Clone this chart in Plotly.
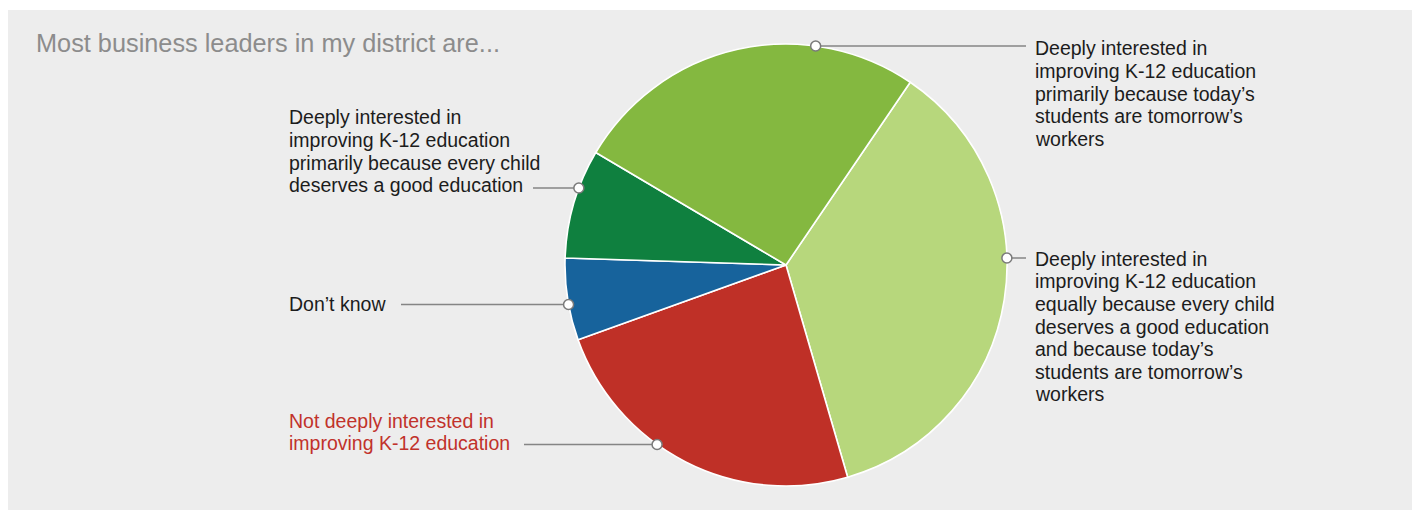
import math
import plotly.graph_objects as go

W, H = 1412, 510

# ---- data ---------------------------------------------------------------
categories = [
    "Deeply interested in improving K-12 education equally because every child "
    "deserves a good education and because today’s students are tomorrow’s workers",
    "Not deeply interested in improving K-12 education",
    "Don’t know",
    "Deeply interested in improving K-12 education primarily because every child "
    "deserves a good education",
    "Deeply interested in improving K-12 education primarily because today’s "
    "students are tomorrow’s workers",
]
shares = [36, 24, 6, 8, 26]
slice_colors = ["#b7d77c", "#bf3027", "#17639c", "#0f803f", "#84b840"]

label_lines = [
    ["Deeply interested in", "improving K-12 education", "equally because every child",
     "deserves a good education", "and because today’s", "students are tomorrow’s", "workers"],
    ["Not deeply interested in", "improving K-12 education"],
    ["Don’t know"],
    ["Deeply interested in", "improving K-12 education", "primarily because every child",
     "deserves a good education"],
    ["Deeply interested in", "improving K-12 education", "primarily because today’s",
     "students are tomorrow’s", "workers"],
]
label_colors = ["#1c1c1c", "#c1322b", "#1c1c1c", "#1c1c1c", "#1c1c1c"]

title_text = "Most business leaders in my district are..."

# ---- layout (pixel units, origin top-left) -------------------------------
CX, CY, R = 786.0, 265.0, 221.0
ROTATION = 34.2
FONT = "Liberation Sans, Arial, sans-serif"
LABEL_SIZE = 19.5
LINE_GAP = 22.6

# side, text x, first line y, leader y, leader outer end x
label_layout = [
    ("right", 1033, 258.8, 258.0, 1026),
    ("left", 287, 420.8, 444.5, 524),
    ("left", 287, 303.7, 304.5, 401),
    ("left", 287, 117.5, 188.0, 533),
    ("right", 1033, 48.3, 46.0, 1026),
]


def px(x):
    return x / W


def py(y):
    return 1 - y / H


fig = go.Figure()
fig.add_trace(go.Pie(
    labels=categories,
    values=shares,
    sort=False,
    direction="clockwise",
    rotation=ROTATION,
    marker=dict(colors=slice_colors, line=dict(color="white", width=1.6)),
    textinfo="none",
    hoverinfo="label+percent",
    showlegend=False,
    domain=dict(x=[px(CX - R), px(CX + R)], y=[py(CY + R), py(CY - R)]),
))

shapes = [
    dict(type="rect", xref="paper", yref="paper", x0=px(8), x1=1, y0=0, y1=py(10),
         fillcolor="#ededed", line=dict(width=0), layer="below"),
]
annotations = [
    dict(text=title_text, x=px(34), y=py(42.8), xref="paper", yref="paper",
         xanchor="left", yanchor="middle", showarrow=False,
         font=dict(family=FONT, size=25.3, color="#8c8c8c")),
]

for lines, color, (side, tx, ty, ly, lx) in zip(label_lines, label_colors, label_layout):
    for k, line in enumerate(lines):
        annotations.append(dict(
            text=line, x=px(tx), y=py(ty + k * LINE_GAP), xref="paper", yref="paper",
            xanchor="left", yanchor="middle", showarrow=False,
            font=dict(family=FONT, size=LABEL_SIZE, color=color)))
    # point where the leader meets the rim of the pie
    dx = math.sqrt(max(R * R - (ly - CY) ** 2, 0.0))
    rx = CX + dx if side == "right" else CX - dx
    shapes.append(dict(type="line", xref="paper", yref="paper",
                       x0=px(rx), x1=px(lx), y0=py(ly), y1=py(ly),
                       line=dict(color="#858585", width=1.5), layer="above"))
    rr = 5.0
    shapes.append(dict(type="circle", xref="paper", yref="paper",
                       x0=px(rx - rr), x1=px(rx + rr), y0=py(ly + rr), y1=py(ly - rr),
                       fillcolor="white", line=dict(color="#7a7a7a", width=1.5),
                       layer="above"))

fig.update_layout(
    width=W, height=H, autosize=False,
    margin=dict(l=0, r=0, t=0, b=0),
    paper_bgcolor="white",
    shapes=shapes,
    annotations=annotations,
)

fig.write_html("out.html")
